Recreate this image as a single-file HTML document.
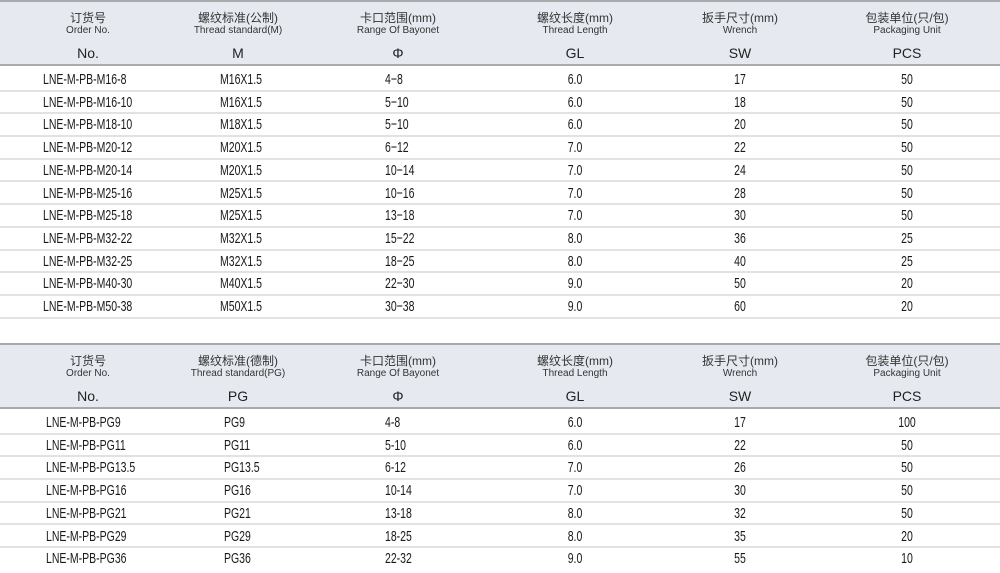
<!DOCTYPE html>
<html><head><meta charset="utf-8"><style>
*{margin:0;padding:0;box-sizing:border-box}
body{width:1000px;height:573px;background:#fff;position:relative;overflow:hidden;font-family:"Liberation Sans","Noto Sans CJK SC",sans-serif;color:#222}
.hd{position:absolute;left:0;width:1000px;height:66px;background:#e6eaf0;border-top:2px solid #a8aaad;border-bottom:2px solid #a8aaad}
.h{position:absolute;width:160px;margin-left:-80px;text-align:center}
.cn{top:7px;font-size:12px;color:#333}
.en{top:23px;font-size:10px;color:#333}
.bg{top:43px;font-size:14px;color:#222}
.r{position:absolute;left:0;width:1000px;height:22.7px;border-bottom:2px solid #e2e2e2;font-family:"Liberation Sans",sans-serif;font-size:15px;color:#1a1a1a}
.r span{position:absolute;top:2px;white-space:nowrap;transform:scaleX(0.7);transform-origin:left center}
.r span.c{width:80px;margin-left:-40px;text-align:center;transform-origin:center center}
</style></head><body>

<div class="hd" style="top:0">
<div class="h cn" style="left:88px">订货号</div><div class="h en" style="left:88px">Order No.</div><div class="h bg" style="left:88px">No.</div>
<div class="h cn" style="left:238px">螺纹标准(公制)</div><div class="h en" style="left:238px">Thread standard(M)</div><div class="h bg" style="left:238px">M</div>
<div class="h cn" style="left:398px">卡口范围(mm)</div><div class="h en" style="left:398px">Range Of Bayonet</div><div class="h bg" style="left:398px">Φ</div>
<div class="h cn" style="left:575px">螺纹长度(mm)</div><div class="h en" style="left:575px">Thread Length</div><div class="h bg" style="left:575px">GL</div>
<div class="h cn" style="left:740px">扳手尺寸(mm)</div><div class="h en" style="left:740px">Wrench</div><div class="h bg" style="left:740px">SW</div>
<div class="h cn" style="left:907px">包装单位(只/包)</div><div class="h en" style="left:907px">Packaging Unit</div><div class="h bg" style="left:907px">PCS</div>
</div>

<div class="r" style="top:69px"><span style="left:43px">LNE-M-PB-M16-8</span><span style="left:220px">M16X1.5</span><span style="left:385px">4−8</span><span class="c" style="left:575px">6.0</span><span class="c" style="left:740px">17</span><span class="c" style="left:907px">50</span></div>
<div class="r" style="top:91.7px"><span style="left:43px">LNE-M-PB-M16-10</span><span style="left:220px">M16X1.5</span><span style="left:385px">5−10</span><span class="c" style="left:575px">6.0</span><span class="c" style="left:740px">18</span><span class="c" style="left:907px">50</span></div>
<div class="r" style="top:114.4px"><span style="left:43px">LNE-M-PB-M18-10</span><span style="left:220px">M18X1.5</span><span style="left:385px">5−10</span><span class="c" style="left:575px">6.0</span><span class="c" style="left:740px">20</span><span class="c" style="left:907px">50</span></div>
<div class="r" style="top:137.1px"><span style="left:43px">LNE-M-PB-M20-12</span><span style="left:220px">M20X1.5</span><span style="left:385px">6−12</span><span class="c" style="left:575px">7.0</span><span class="c" style="left:740px">22</span><span class="c" style="left:907px">50</span></div>
<div class="r" style="top:159.8px"><span style="left:43px">LNE-M-PB-M20-14</span><span style="left:220px">M20X1.5</span><span style="left:385px">10−14</span><span class="c" style="left:575px">7.0</span><span class="c" style="left:740px">24</span><span class="c" style="left:907px">50</span></div>
<div class="r" style="top:182.5px"><span style="left:43px">LNE-M-PB-M25-16</span><span style="left:220px">M25X1.5</span><span style="left:385px">10−16</span><span class="c" style="left:575px">7.0</span><span class="c" style="left:740px">28</span><span class="c" style="left:907px">50</span></div>
<div class="r" style="top:205.2px"><span style="left:43px">LNE-M-PB-M25-18</span><span style="left:220px">M25X1.5</span><span style="left:385px">13−18</span><span class="c" style="left:575px">7.0</span><span class="c" style="left:740px">30</span><span class="c" style="left:907px">50</span></div>
<div class="r" style="top:227.9px"><span style="left:43px">LNE-M-PB-M32-22</span><span style="left:220px">M32X1.5</span><span style="left:385px">15−22</span><span class="c" style="left:575px">8.0</span><span class="c" style="left:740px">36</span><span class="c" style="left:907px">25</span></div>
<div class="r" style="top:250.6px"><span style="left:43px">LNE-M-PB-M32-25</span><span style="left:220px">M32X1.5</span><span style="left:385px">18−25</span><span class="c" style="left:575px">8.0</span><span class="c" style="left:740px">40</span><span class="c" style="left:907px">25</span></div>
<div class="r" style="top:273.3px"><span style="left:43px">LNE-M-PB-M40-30</span><span style="left:220px">M40X1.5</span><span style="left:385px">22−30</span><span class="c" style="left:575px">9.0</span><span class="c" style="left:740px">50</span><span class="c" style="left:907px">20</span></div>
<div class="r" style="top:296px"><span style="left:43px">LNE-M-PB-M50-38</span><span style="left:220px">M50X1.5</span><span style="left:385px">30−38</span><span class="c" style="left:575px">9.0</span><span class="c" style="left:740px">60</span><span class="c" style="left:907px">20</span></div>

<div class="hd" style="top:343px">
<div class="h cn" style="left:88px">订货号</div><div class="h en" style="left:88px">Order No.</div><div class="h bg" style="left:88px">No.</div>
<div class="h cn" style="left:238px">螺纹标准(德制)</div><div class="h en" style="left:238px">Thread standard(PG)</div><div class="h bg" style="left:238px">PG</div>
<div class="h cn" style="left:398px">卡口范围(mm)</div><div class="h en" style="left:398px">Range Of Bayonet</div><div class="h bg" style="left:398px">Φ</div>
<div class="h cn" style="left:575px">螺纹长度(mm)</div><div class="h en" style="left:575px">Thread Length</div><div class="h bg" style="left:575px">GL</div>
<div class="h cn" style="left:740px">扳手尺寸(mm)</div><div class="h en" style="left:740px">Wrench</div><div class="h bg" style="left:740px">SW</div>
<div class="h cn" style="left:907px">包装单位(只/包)</div><div class="h en" style="left:907px">Packaging Unit</div><div class="h bg" style="left:907px">PCS</div>
</div>

<div class="r" style="top:412px"><span style="left:46px">LNE-M-PB-PG9</span><span style="left:224px">PG9</span><span style="left:385px">4-8</span><span class="c" style="left:575px">6.0</span><span class="c" style="left:740px">17</span><span class="c" style="left:907px">100</span></div>
<div class="r" style="top:434.7px"><span style="left:46px">LNE-M-PB-PG11</span><span style="left:224px">PG11</span><span style="left:385px">5-10</span><span class="c" style="left:575px">6.0</span><span class="c" style="left:740px">22</span><span class="c" style="left:907px">50</span></div>
<div class="r" style="top:457.4px"><span style="left:46px">LNE-M-PB-PG13.5</span><span style="left:224px">PG13.5</span><span style="left:385px">6-12</span><span class="c" style="left:575px">7.0</span><span class="c" style="left:740px">26</span><span class="c" style="left:907px">50</span></div>
<div class="r" style="top:480.1px"><span style="left:46px">LNE-M-PB-PG16</span><span style="left:224px">PG16</span><span style="left:385px">10-14</span><span class="c" style="left:575px">7.0</span><span class="c" style="left:740px">30</span><span class="c" style="left:907px">50</span></div>
<div class="r" style="top:502.8px"><span style="left:46px">LNE-M-PB-PG21</span><span style="left:224px">PG21</span><span style="left:385px">13-18</span><span class="c" style="left:575px">8.0</span><span class="c" style="left:740px">32</span><span class="c" style="left:907px">50</span></div>
<div class="r" style="top:525.5px"><span style="left:46px">LNE-M-PB-PG29</span><span style="left:224px">PG29</span><span style="left:385px">18-25</span><span class="c" style="left:575px">8.0</span><span class="c" style="left:740px">35</span><span class="c" style="left:907px">20</span></div>
<div class="r" style="top:548.2px;border-bottom:none"><span style="left:46px">LNE-M-PB-PG36</span><span style="left:224px">PG36</span><span style="left:385px">22-32</span><span class="c" style="left:575px">9.0</span><span class="c" style="left:740px">55</span><span class="c" style="left:907px">10</span></div>

</body></html>
